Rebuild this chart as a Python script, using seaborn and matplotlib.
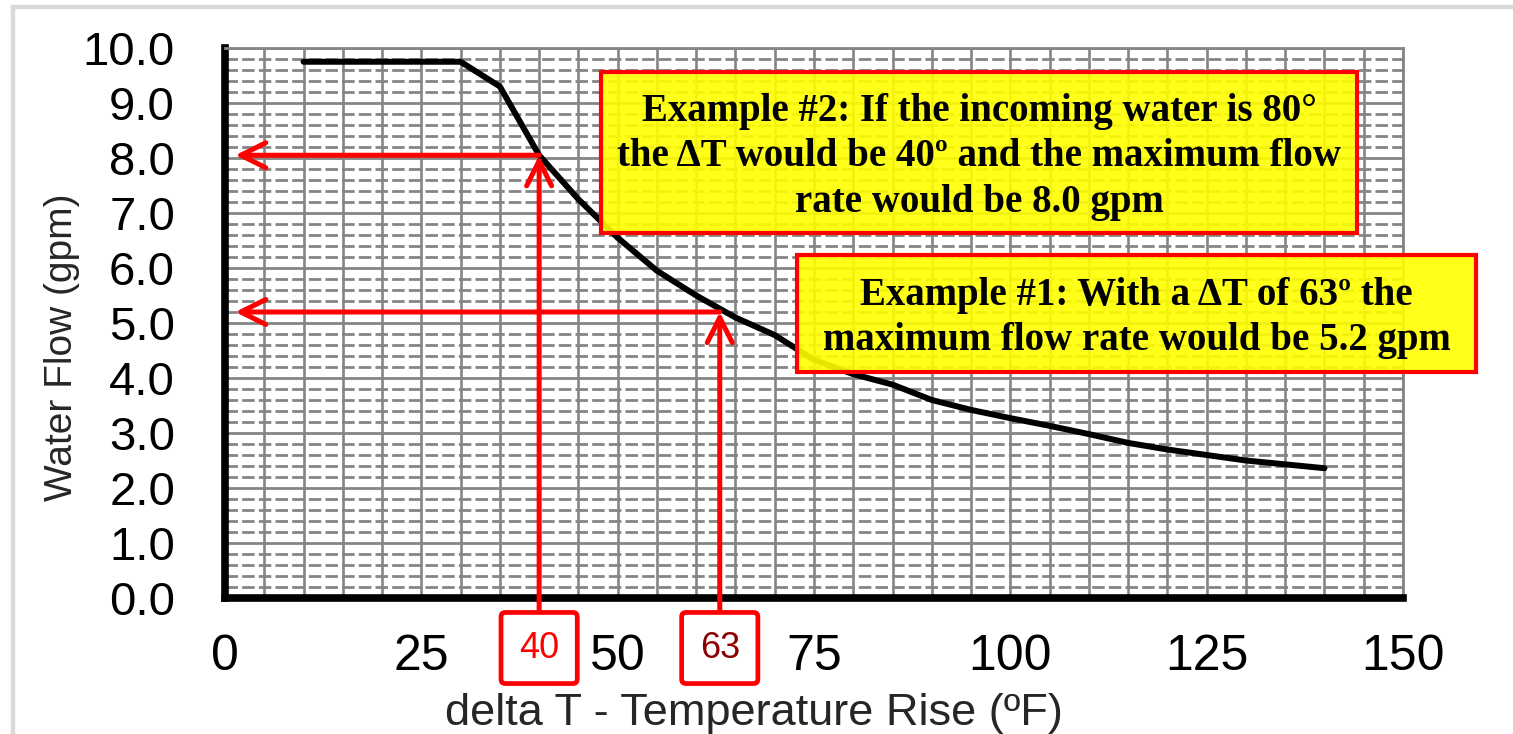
import matplotlib
matplotlib.use("Agg")
import matplotlib.pyplot as plt
import seaborn as sns
import pandas as pd
from matplotlib.patches import Rectangle
from matplotlib.ticker import MultipleLocator, FormatStrFormatter

# ---- data ----
delta_t = [10, 15, 20, 25, 30, 35, 40, 45, 50, 55, 60, 65, 70, 75, 80, 85, 90,
           95, 100, 105, 110, 115, 120, 125, 130, 135, 140]
flow = [9.75, 9.75, 9.75, 9.75, 9.75, 9.30, 8.05, 7.25, 6.55, 5.95, 5.50, 5.10,
        4.78, 4.33, 4.07, 3.88, 3.60, 3.42, 3.27, 3.13, 2.98, 2.82, 2.70, 2.60,
        2.50, 2.43, 2.36]
example_dt = [40, 63]
example_flow = [8.05, 5.2]
example_label_colors = ["#ff0000", "#8b0000"]
x_ticks = [0, 25, 50, 75, 100, 125, 150]
x_label = "delta T - Temperature Rise (ºF)"
y_label = "Water Flow (gpm)"
note_2 = ("Example #2: If the incoming water is 80°\n"
          "the ΔT would be 40º and the maximum flow\n"
          "rate would be 8.0 gpm")
note_1 = ("Example #1: With a ΔT of 63º the\n"
          "maximum flow rate would be 5.2 gpm")

df = pd.DataFrame({"dt": delta_t, "flow": flow})

sns.set_style("white")
plt.rcParams["font.family"] = ["Liberation Sans", "DejaVu Sans"]

W, H = 1513, 734
fig = plt.figure(figsize=(W / 100, H / 100), dpi=100)
fig.patch.set_facecolor("white")

# light grey outer frame (left and top visible)
frame = Rectangle((13 / W, -1), 5, 1 - 7 / H + 1, transform=fig.transFigure,
                  fill=False, edgecolor="#d9d9d9", lw=3.2, zorder=-5)
fig.add_artist(frame)

ax = fig.add_axes([225 / W, 1 - 598 / H, (1403 - 225) / W, (598 - 48) / H])

grid_c = "#858585"
ax.set_xlim(0, 150)
ax.set_ylim(0, 10)
ax.set_xticks(x_ticks)
ax.xaxis.set_minor_locator(MultipleLocator(5))
ax.yaxis.set_major_locator(MultipleLocator(1))
ax.yaxis.set_minor_locator(MultipleLocator(0.2))
ax.yaxis.set_major_formatter(FormatStrFormatter("%.1f"))

ax.grid(which="major", axis="y", color=grid_c, lw=2.0, ls="-", zorder=0)
ax.grid(which="minor", axis="y", color=grid_c, lw=2.0, ls=(0, (4.5, 1.5)), zorder=0)
ax.grid(which="both", axis="x", color=grid_c, lw=1.9, ls="-", zorder=0)
ax.set_axisbelow(True)

sns.lineplot(data=df, x="dt", y="flow", ax=ax, color="black", lw=4.3, zorder=3)

for side in ["left", "bottom"]:
    ax.spines[side].set_color("black")
    ax.spines[side].set_linewidth(5.5)
for side in ["top", "right"]:
    ax.spines[side].set_color(grid_c)
    ax.spines[side].set_linewidth(2.0)

ax.tick_params(which="major", direction="inout", length=18, width=4,
               color="black", labelcolor="black")
ax.tick_params(axis="x", which="major", pad=17, labelsize=36)
ax.tick_params(axis="y", which="major", pad=27, labelsize=34)
ax.tick_params(which="minor", direction="in", length=6, width=3, color="black")

ax.set_xlabel(x_label, fontsize=32.5)
ax.set_ylabel(y_label, fontsize=28)
ax.xaxis.set_label_coords(0.449, -0.21)
ax.xaxis.label.set_verticalalignment("center")
ax.yaxis.set_label_coords(-0.138, 0.456)
ax.yaxis.label.set_verticalalignment("center")

# red example guides
arrow_kw = dict(arrowstyle="->,head_length=0.9,head_width=0.45", color="red",
                lw=3.6, mutation_scale=20, shrinkA=0, shrinkB=0)
for v, f, c in zip(example_dt, example_flow, example_label_colors):
    ax.annotate("", xy=(v, f), xytext=(v, -0.5), xycoords="data",
                textcoords="data", arrowprops=arrow_kw, annotation_clip=False,
                zorder=6)
    ax.annotate("", xy=(1.3, f), xytext=(v, f), xycoords="data",
                textcoords="data", arrowprops=arrow_kw, annotation_clip=False,
                zorder=6)
    ax.annotate(str(v), xy=(v, 0), xycoords="data", xytext=(0, -36),
                textcoords="offset points", ha="center", va="center",
                fontsize=26, color=c, annotation_clip=False, zorder=7,
                bbox=dict(boxstyle="round,pad=0.5,rounding_size=0.12",
                          fc="white", ec="red", lw=3.4))

# yellow note boxes
def note(x0, y0, x1, y1, text):
    r = Rectangle((x0 / W, 1 - y1 / H), (x1 - x0) / W, (y1 - y0) / H,
                  transform=fig.transFigure, facecolor=(1, 1, 0, 0.9),
                  edgecolor="#ff0000", lw=3.0, zorder=5)
    fig.add_artist(r)
    fig.text((x0 + x1) / 2 / W, 1 - (y0 + y1) / 2 / H - 0.006, text,
             ha="center", va="center", multialignment="center",
             family=["Liberation Serif", "DejaVu Serif"], weight="bold",
             fontsize=28, linespacing=1.3, color="black", zorder=6)

note(601, 72, 1357, 233, note_2)
note(797, 255, 1476, 372, note_1)

fig.savefig("out.png", dpi=100)
